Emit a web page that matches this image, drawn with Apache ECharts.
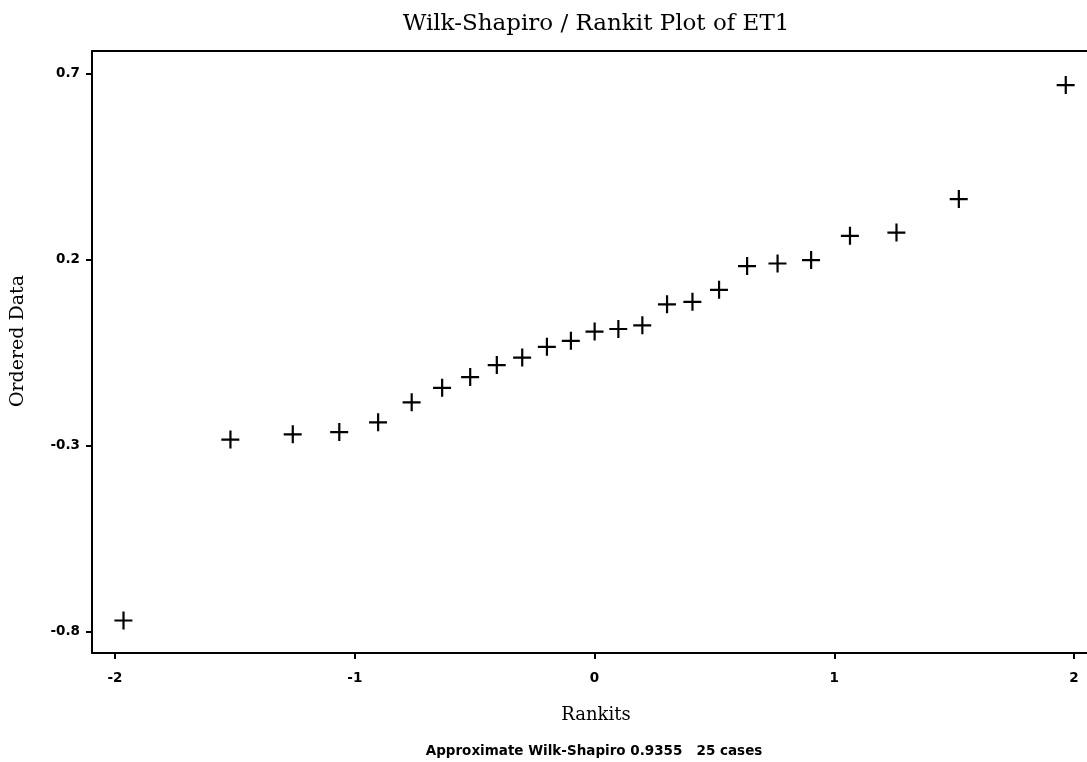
<!DOCTYPE html>
<html>
<head>
<meta charset="utf-8">
<style>
html,body{margin:0;padding:0;background:#fff;}
#chart{width:1087px;height:762px;}
</style>
<script src="https://cdn.jsdelivr.net/npm/echarts@6/dist/echarts.min.js"></script>
</head>
<body>
<div id="chart"></div>
<script>
// Rankits (expected normal order statistics) for 25 cases
var rankits = [-1.965,-1.519,-1.259,-1.065,-0.903,-0.763,-0.636,-0.519,-0.408,-0.302,-0.199,-0.099,0,
               0.099,0.199,0.302,0.408,0.519,0.636,0.763,0.903,1.065,1.259,1.519,1.965];
// Ordered data values
var orderedData = [-0.769,-0.283,-0.269,-0.263,-0.237,-0.183,-0.144,-0.115,-0.083,-0.063,-0.034,-0.018,0.007,
                   0.014,0.024,0.080,0.087,0.119,0.183,0.190,0.199,0.264,0.273,0.363,0.669];
var xTicks = [-2,-1,0,1,2];
var yTicks = [-0.8,-0.3,0.2,0.7];
var titleText = 'Wilk-Shapiro / Rankit Plot of ET1';
var xName = 'Rankits';
var yName = 'Ordered Data';
var footer = 'Approximate Wilk-Shapiro 0.9355   25 cases';

var points = rankits.map(function(r,i){return [r, orderedData[i]];});

var chart = echarts.init(document.getElementById('chart'));
var labelFont = {color:'#000', fontFamily:'DejaVu Sans, Arial, sans-serif', fontWeight:'bold', fontSize:13.5};
var serif = '"DejaVu Serif", "Liberation Serif", serif';
chart.setOption({
  animation:false,
  backgroundColor:'#fff',
  title:{text:titleText, left:591, top:8, textAlign:'center',
    textStyle:{fontFamily:serif, fontWeight:'normal', fontSize:23, color:'#000'}},
  grid:{left:92, right:0, top:51, bottom:109},
  xAxis:[{
    type:'value', min:-2.096, max:2.054,
    axisLine:{show:true, onZero:false, lineStyle:{color:'#000', width:2}},
    axisTick:{show:true, length:6, lineStyle:{color:'#000', width:2}, customValues:xTicks},
    axisLabel:Object.assign({show:true, margin:18, customValues:xTicks, formatter:function(v){return String(v);}}, labelFont),
    splitLine:{show:false}
  },{
    type:'value', position:'top', min:-2.096, max:2.054,
    axisLine:{show:true, onZero:false, lineStyle:{color:'#000', width:2}},
    axisTick:{show:false}, axisLabel:{show:false}, splitLine:{show:false}
  }],
  yAxis:{
    type:'value', min:-0.8565, max:0.7605,
    axisLine:{show:true, onZero:false, lineStyle:{color:'#000', width:2}},
    axisTick:{show:true, length:6, lineStyle:{color:'#000', width:2}, customValues:yTicks},
    axisLabel:Object.assign({show:true, margin:12, customValues:yTicks, formatter:function(v){return String(v);}}, labelFont),
    splitLine:{show:false}
  },
  graphic:[
    {type:'text', x:18, y:341, rotation:Math.PI/2, style:{text:yName, x:0, y:0,
      font:'19px ' + serif, fill:'#000', align:'center', verticalAlign:'middle'}},
    {type:'text', x:596, y:715, style:{text:xName, x:0, y:0,
      font:'18px ' + serif, fill:'#000', align:'center', verticalAlign:'middle'}},
    {type:'text', x:594, y:751, style:{text:footer, x:0, y:0,
      font:'bold 13.5px "DejaVu Sans", Arial, sans-serif', fill:'#000', align:'center', verticalAlign:'middle'}}
  ],
  series:[{
    type:'scatter', xAxisIndex:0, data:points,
    symbol:'path://M8,0 H10.2 V8 H18 V10.2 H10.2 V18 H8 V10.2 H0 V8 H8 Z',
    symbolSize:18,
    itemStyle:{color:'#000', opacity:1},
    emphasis:{disabled:true}
  }]
});
</script>
</body>
</html>
